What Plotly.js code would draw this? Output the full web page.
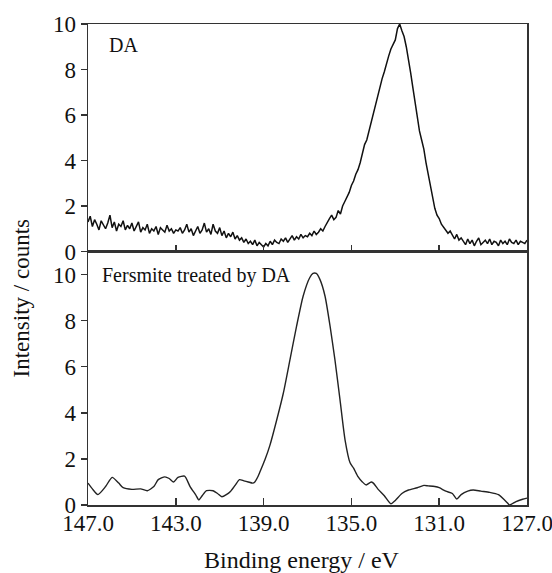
<!DOCTYPE html>
<html>
<head>
<meta charset="utf-8">
<script src="https://cdn.plot.ly/plotly-3.0.1.min.js"></script>
<style>html,body{margin:0;padding:0;background:#fff;}</style>
</head>
<body>
<div id="chart" style="width:552px;height:573px;"></div>
<script>
// Top panel (DA): sampled every 0.1 eV from 147.0 eV down to 127.0 eV
const daStart = 147.0;
const daStep = -0.1;
const daIntensity = [
  1.3,1.55,1.1,1.4,1.2,0.95,1.35,1.15,1.0,1.25,1.6,1.05,1.3,0.9,1.2,1.1,1.35,0.95,1.15,1.0,1.25,
  0.9,1.1,1.3,0.85,1.05,0.95,1.2,0.8,1.0,0.9,1.1,0.75,1.05,0.95,0.85,1.15,0.9,1.0,0.8,0.95,
  0.9,1.05,0.8,0.95,1.2,0.85,1.0,0.7,0.9,1.1,0.8,0.95,1.25,0.85,1.0,0.75,1.2,0.9,0.8,1.05,
  0.7,0.9,0.6,0.8,0.65,0.85,0.55,0.7,0.5,0.6,0.4,0.55,0.35,0.45,0.3,0.5,0.25,0.4,0.3,0.2,
  0.35,0.25,0.45,0.3,0.5,0.4,0.35,0.55,0.45,0.6,0.4,0.55,0.7,0.5,0.65,0.55,0.75,0.6,0.7,0.65,
  0.8,0.7,0.9,0.75,0.85,1.0,0.9,1.1,1.3,1.45,
  1.6,1.4,1.5,1.8,1.65,2.0,2.2,2.4,2.6,2.9,
  3.1,3.4,3.6,3.9,4.3,4.7,4.9,5.3,5.7,6.0,
  6.4,6.9,7.2,7.6,7.9,8.3,8.6,8.9,9.1,9.3,
  9.8,10.0,9.7,9.45,9.0,8.5,7.85,7.2,6.55,5.85,
  5.3,4.9,4.5,3.9,3.4,2.9,2.3,1.9,1.6,1.45,
  1.2,1.05,0.95,0.8,0.9,0.7,0.55,0.75,0.5,0.6,
  0.45,0.3,0.55,0.35,0.5,0.25,0.45,0.6,0.3,0.4,0.5,0.35,0.55,0.3,0.45,
  0.4,0.25,0.5,0.35,0.45,0.3,0.55,0.4,0.35,0.5,0.3,0.45,0.4,0.35,0.5
];

// Bottom panel (Fersmite treated by DA)
const ferEnergy = [
  147.0,146.8,146.55,146.2,145.9,145.6,145.4,145.0,144.6,144.3,144.0,143.8,143.5,143.3,143.1,
  142.9,142.6,142.35,142.1,141.95,141.8,141.6,141.3,141.1,140.9,140.7,140.5,140.3,140.1,139.9,
  139.7,139.5,139.4,139.25,139.16,138.94,138.71,138.4,138.1,137.8,137.5,137.2,136.9,136.75,136.6,
  136.43,136.2,135.97,135.75,135.52,135.29,135.06,134.9,134.7,134.5,134.33,134.1,134.0,133.8,133.5,
  133.2,133.0,132.7,132.4,132.0,131.7,131.5,131.2,131.0,130.7,130.4,130.2,130.0,129.7,129.45,
  129.1,128.7,128.3,127.9,127.8,127.5,127.2,127.0
];
const ferIntensity = [
  0.95,0.7,0.45,0.8,1.2,0.95,0.75,0.68,0.7,0.62,0.8,1.1,1.22,1.15,1.0,
  1.2,1.25,0.8,0.45,0.22,0.4,0.62,0.62,0.5,0.36,0.45,0.6,0.85,1.1,1.05,
  1.0,0.95,1.0,1.25,1.45,1.96,2.6,3.7,4.86,6.3,7.75,9.06,9.86,10.05,10.05,
  9.78,9.06,7.75,6.3,4.57,2.83,1.83,1.6,1.23,1.0,0.87,1.0,0.95,0.7,0.4,
  0.05,0.2,0.5,0.65,0.75,0.85,0.83,0.8,0.75,0.6,0.5,0.26,0.45,0.6,0.65,
  0.6,0.55,0.45,0.1,0.0,0.15,0.25,0.3
];

const xTicks = [147, 143, 139, 135, 131, 127];
const xTickLabels = ["147.0", "143.0", "139.0", "135.0", "131.0", "127.0"];
const yTicks = [0, 2, 4, 6, 8, 10];

const serif = "Liberation Serif";
const axisCol = "#333";

const traces = [
  {x0: daStart, dx: daStep, y: daIntensity, xaxis: "x2", yaxis: "y2", type: "scatter", mode: "lines",
   line: {color: "#111", width: 1.5}, hoverinfo: "skip"},
  {x: ferEnergy, y: ferIntensity, xaxis: "x", yaxis: "y", type: "scatter", mode: "lines",
   line: {color: "#222", width: 1.4, shape: "spline", smoothing: 0.6}, hoverinfo: "skip"}
];

const xBase = {
  range: [147, 127], tickmode: "array", tickvals: xTicks, ticktext: xTickLabels,
  ticks: "inside", ticklen: 7, tickwidth: 1.5, tickcolor: axisCol,
  showline: true, linecolor: axisCol, linewidth: 1.5, mirror: true,
  showgrid: false, zeroline: false, ticklabeloverflow: "allow", ticklabelstandoff: -3,
  tickfont: {family: serif, size: 23, color: "#111"}
};
const yBase = {
  tickmode: "array", tickvals: yTicks,
  ticks: "outside", ticklen: 6, tickwidth: 1.5, tickcolor: axisCol,
  showline: true, linecolor: axisCol, linewidth: 1.5, mirror: true,
  showgrid: false, zeroline: false,
  tickfont: {family: serif, size: 23, color: "#111"}
};

const layout = {
  width: 552, height: 573,
  font: {family: serif, color: "#111"},
  margin: {l: 88, r: 25, t: 24, b: 68},
  paper_bgcolor: "#fff", plot_bgcolor: "#fff",
  showlegend: false,
  xaxis: Object.assign({}, xBase, {anchor: "y", domain: [0, 1]}),
  yaxis: Object.assign({}, yBase, {anchor: "x", domain: [0, 0.527], range: [0, 11.0]}),
  xaxis2: Object.assign({}, xBase, {anchor: "y2", domain: [0, 1], showticklabels: false, matches: "x"}),
  yaxis2: Object.assign({}, yBase, {anchor: "x2", domain: [0.527, 1], range: [0, 10]}),
  annotations: [
    {text: "DA", xref: "paper", yref: "paper", x: 0.043, y: 0.956, xanchor: "left", yanchor: "middle",
     showarrow: false, font: {family: serif, size: 20, color: "#111"}},
    {text: "Fersmite treated by DA", xref: "paper", yref: "paper", x: 0.028, y: 0.478, xanchor: "left", yanchor: "middle",
     showarrow: false, font: {family: serif, size: 20, color: "#111"}},
    {text: "Binding energy / eV", xref: "paper", yref: "paper", x: 0.4875, y: -0.114, xanchor: "center", yanchor: "middle",
     showarrow: false, font: {family: serif, size: 24, color: "#111"}},
    {text: "Intensity / counts", xref: "paper", yref: "paper", x: -0.152, y: 0.43, xanchor: "center", yanchor: "middle",
     textangle: -90, showarrow: false, font: {family: serif, size: 23, color: "#111"}}
  ]
};

Plotly.newPlot("chart", traces, layout, {displayModeBar: false, staticPlot: true});
</script>
</body>
</html>
